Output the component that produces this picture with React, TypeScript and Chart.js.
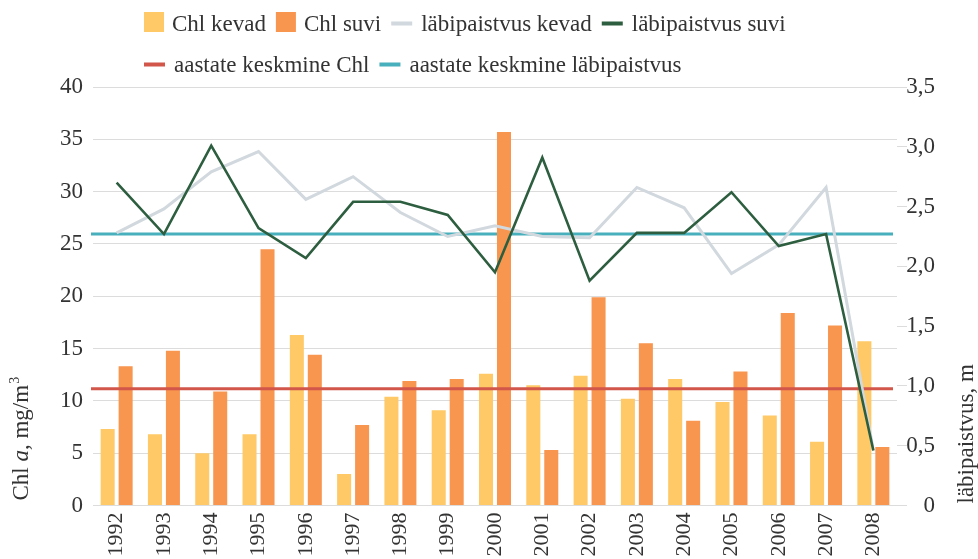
import React, { useEffect, useRef } from 'react';
import { Chart, registerables } from 'chart.js';

Chart.register(...registerables);

// ---- data ----
const years = ['1992', '1993', '1994', '1995', '1996', '1997', '1998', '1999', '2000', '2001', '2002', '2003', '2004', '2005', '2006', '2007', '2008'];
const chlKevad = [7.3, 6.8, 5.0, 6.8, 16.3, 3.0, 10.4, 9.1, 12.6, 11.5, 12.4, 10.2, 12.1, 9.9, 8.6, 6.1, 15.7];
const chlSuvi = [13.3, 14.8, 10.9, 24.5, 14.4, 7.7, 11.9, 12.1, 35.7, 5.3, 19.9, 15.5, 8.1, 12.8, 18.4, 17.2, 5.6];
const labiKevad = [2.28, 2.48, 2.79, 2.96, 2.56, 2.75, 2.45, 2.25, 2.34, 2.25, 2.24, 2.66, 2.49, 1.94, 2.18, 2.66, 0.46];
const labiSuvi = [2.70, 2.27, 3.01, 2.32, 2.07, 2.54, 2.54, 2.43, 1.95, 2.91, 1.88, 2.28, 2.28, 2.62, 2.17, 2.27, 0.46];
const avgChl = 11.15;
const avgLabi = 2.27;
const leftTicks = { min: 0, max: 40, step: 5 };
const rightTicks = { min: 0, max: 3.5, step: 0.5 };

const seriesLabels = ['Chl kevad', 'Chl suvi', 'läbipaistvus kevad', 'läbipaistvus suvi', 'aastate keskmine Chl', 'aastate keskmine läbipaistvus'];
const leftTitle = ['Chl ', 'a', ', mg/m', '3'];
const rightTitle = 'läbipaistvus, m';

// ---- styles ----
const FONT = '"Liberation Serif", "Times New Roman", serif';
const TEXT = '#333333';
const C_KEVAD = '#FEC966';
const C_SUVI = '#F8954F';
const C_GRAY = '#D1D8DE';
const C_GREEN = '#2D5E3F';
const C_RED = '#D2564A';
const C_TEAL = '#48AFBC';
const GRID = '#dcdcdc';

export default function App() {
  const ref = useRef<HTMLCanvasElement>(null);

  useEffect(() => {
    document.body.style.margin = '0';
    const canvas = ref.current!;

    const hLine = (chart: any, scaleId: string, value: number, color: string) => {
      const ctx = chart.ctx;
      const y = chart.scales[scaleId].getPixelForValue(value);
      const { left, right } = chart.chartArea;
      ctx.save();
      ctx.strokeStyle = color;
      ctx.lineWidth = 3;
      ctx.beginPath();
      ctx.moveTo(left - 2, y);
      ctx.lineTo(right - 4, y);
      ctx.stroke();
      ctx.restore();
    };

    const avgPlugin = {
      id: 'avgLines',
      beforeDatasetsDraw(chart: any) {
        hLine(chart, 'y1', avgLabi, C_TEAL);
      },
      afterDatasetDraw(chart: any, args: any) {
        if (args.index === 0) hLine(chart, 'y', avgChl, C_RED);
      },
    };

    const legendPlugin = {
      id: 'customLegend',
      afterDraw(chart: any) {
        const ctx = chart.ctx;
        const items = [
          { label: seriesLabels[0], color: C_KEVAD, kind: 'box' },
          { label: seriesLabels[1], color: C_SUVI, kind: 'box' },
          { label: seriesLabels[2], color: C_GRAY, kind: 'line' },
          { label: seriesLabels[3], color: C_GREEN, kind: 'line' },
          { label: seriesLabels[4], color: C_RED, kind: 'line' },
          { label: seriesLabels[5], color: C_TEAL, kind: 'line' },
        ];
        const rows = [[0, 1, 2, 3], [4, 5]];
        const rowY = [22, 63];
        ctx.save();
        ctx.font = `23px ${FONT}`;
        ctx.fillStyle = TEXT;
        ctx.textBaseline = 'alphabetic';
        ctx.textAlign = 'left';
        rows.forEach((row, ri) => {
          let x = 144;
          const yc = rowY[ri];
          row.forEach((idx) => {
            const it = items[idx];
            ctx.fillStyle = it.color;
            if (it.kind === 'box') {
              ctx.fillRect(x, yc - 10, 20, 20);
            } else {
              ctx.fillRect(x, yc - 0.5, 21, 4);
            }
            const tx = x + (it.kind === 'box' ? 28 : 30);
            ctx.fillStyle = TEXT;
            ctx.fillText(it.label, tx, yc + 8.5);
            x = tx + ctx.measureText(it.label).width + 10;
          });
        });
        ctx.restore();
      },
    };

    const titlesPlugin = {
      id: 'axisTitles',
      afterDraw(chart: any) {
        const ctx = chart.ctx;
        const bottom = chart.chartArea.bottom;
        ctx.save();
        ctx.fillStyle = TEXT;
        ctx.textBaseline = 'middle';
        ctx.textAlign = 'left';
        // left title
        ctx.save();
        ctx.translate(22, bottom - 5);
        ctx.rotate(-Math.PI / 2);
        let x = 0;
        ctx.font = `23px ${FONT}`;
        ctx.fillText(leftTitle[0], x, 0);
        x += ctx.measureText(leftTitle[0]).width;
        ctx.font = `italic 23px ${FONT}`;
        ctx.fillText(leftTitle[1], x, 0);
        x += ctx.measureText(leftTitle[1]).width;
        ctx.font = `23px ${FONT}`;
        ctx.fillText(leftTitle[2], x, 0);
        x += ctx.measureText(leftTitle[2]).width + 1;
        ctx.font = `14px ${FONT}`;
        ctx.fillText(leftTitle[3], x, -7);
        ctx.restore();
        // right title
        ctx.save();
        ctx.translate(967, bottom - 2);
        ctx.rotate(-Math.PI / 2);
        ctx.font = `23px ${FONT}`;
        ctx.fillText(rightTitle, 0, 0);
        ctx.restore();
        ctx.restore();
      },
    };

    const tickFont = { family: FONT, size: 23 };

    const chart = new Chart(canvas, {
      type: 'bar',
      data: {
        labels: years,
        datasets: [
          { type: 'bar', label: seriesLabels[0], data: chlKevad, backgroundColor: C_KEVAD, yAxisID: 'y', order: 2, categoryPercentage: 0.76, barPercentage: 0.78 },
          { type: 'bar', label: seriesLabels[1], data: chlSuvi, backgroundColor: C_SUVI, yAxisID: 'y', order: 2, categoryPercentage: 0.76, barPercentage: 0.78 },
          { type: 'line', label: seriesLabels[2], data: labiKevad, borderColor: C_GRAY, borderWidth: 3, pointRadius: 0, tension: 0, fill: false, yAxisID: 'y1', order: 1 },
          { type: 'line', label: seriesLabels[3], data: labiSuvi, borderColor: C_GREEN, borderWidth: 2.6, pointRadius: 0, tension: 0, fill: false, yAxisID: 'y1', order: 0 },
        ] as any,
      },
      options: {
        responsive: false,
        animation: false,
        devicePixelRatio: 1,
        layout: { padding: { top: 87, left: 0, right: 43, bottom: 0 } },
        plugins: {
          legend: { display: false },
          tooltip: { enabled: false },
        },
        scales: {
          x: {
            grid: { display: false, drawTicks: false },
            border: { display: false },
            ticks: { font: { family: FONT, size: 22 }, color: TEXT, maxRotation: 90, minRotation: 90, padding: 7, autoSkip: false },
            afterFit(s: any) { s.height = 53.5; },
          },
          y: {
            position: 'left',
            min: leftTicks.min,
            max: leftTicks.max,
            ticks: { stepSize: leftTicks.step, padding: 10, font: tickFont, color: TEXT },
            grid: { color: GRID, drawTicks: false, lineWidth: 1 },
            border: { display: false },
            afterFit(s: any) { s.width = 93; },
          },
          y1: {
            position: 'right',
            min: rightTicks.min,
            max: rightTicks.max,
            ticks: {
              stepSize: rightTicks.step,
              padding: 0,
              crossAlign: 'far',
              font: tickFont,
              color: TEXT,
              callback: (v: any) => (Number(v) === 0 ? '0' : Number(v).toFixed(1).replace('.', ',')),
            },
            grid: { drawOnChartArea: false, drawTicks: true, tickLength: 10, color: GRID },
            border: { display: false },
            afterFit(s: any) { s.width = 38; },
          },
        },
      } as any,
      plugins: [avgPlugin, legendPlugin, titlesPlugin],
    });

    return () => chart.destroy();
  }, []);

  return (
    <div style={{ width: 978, height: 559 }}>
      <canvas ref={ref} width={978} height={559} style={{ display: 'block' }} />
    </div>
  );
}
